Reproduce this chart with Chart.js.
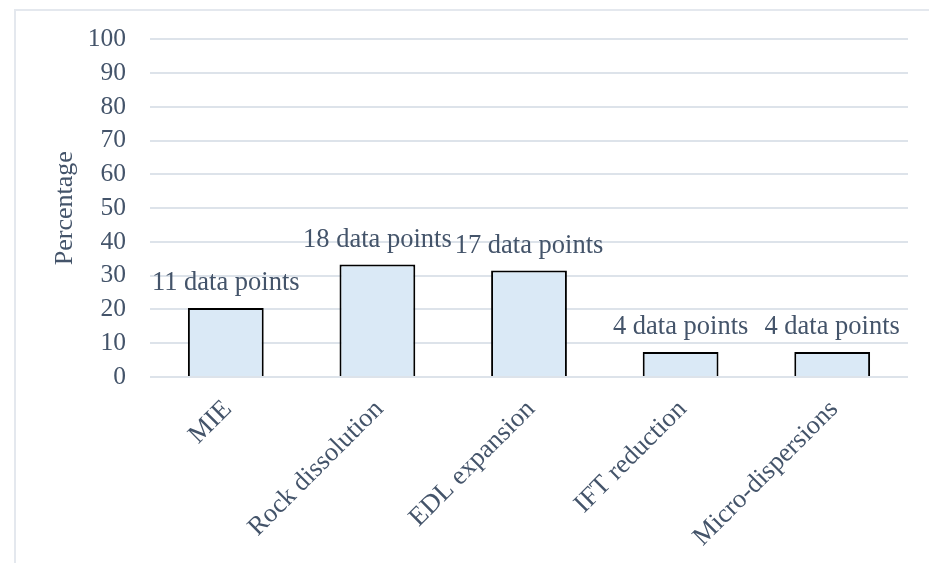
<!DOCTYPE html>
<html>
<head>
<meta charset="utf-8">
<script src="https://cdn.jsdelivr.net/npm/chart.js@4"></script>
<style>
    body { margin: 0; background: #fff; }
    .wrap { position: relative; width: 929px; height: 563px; overflow: hidden; }
    .frame { position: absolute; left: 14px; top: 9px; width: 940px; height: 600px;
             border-top: 2px solid #e4e8ee; border-left: 2px solid #e4e8ee; pointer-events: none; }
    canvas { position: absolute; left: 0; top: 0; }
</style>
</head>
<body>
<div class="wrap">
    <div class="frame"></div>
    <canvas id="mechChart" width="929" height="563"></canvas>
</div>
<script>
// chart data
const categories = ['MIE', 'Rock dissolution', 'EDL expansion', 'IFT reduction', 'Micro-dispersions'];
const percentages = [20.4, 33.3, 31.5, 7.4, 7.4];
const pointCounts = [11, 18, 17, 4, 4];
const yTicks = [0, 10, 20, 30, 40, 50, 60, 70, 80, 90, 100];

const TEXT = '#44546A';
const FONT = 'Liberation Serif';

// labels above the bars ("11 data points" ...)
const barLabels = {
    id: 'barLabels',
    afterDatasetsDraw(chart) {
        const ctx = chart.ctx;
        const meta = chart.getDatasetMeta(0);
        ctx.save();
        ctx.font = `26.5px "${FONT}"`;
        ctx.fillStyle = TEXT;
        ctx.textAlign = 'center';
        ctx.textBaseline = 'alphabetic';
        meta.data.forEach((bar, i) => {
            ctx.fillText(`${pointCounts[i]} data points`, bar.x, bar.y - 18);
        });
        ctx.restore();
    }
};

new Chart(document.getElementById('mechChart'), {
    type: 'bar',
    data: {
        labels: categories,
        datasets: [{
            data: percentages,
            backgroundColor: '#dae9f6',
            borderColor: '#000000',
            borderWidth: 2,
            categoryPercentage: 1,
            barPercentage: 0.5
        }]
    },
    options: {
        responsive: false,
        animation: false,
        layout: { padding: { top: 39, right: 21, left: 0, bottom: 0 } },
        plugins: { legend: { display: false }, tooltip: { enabled: false } },
        scales: {
            x: {
                grid: { display: false },
                border: { display: false },
                ticks: {
                    color: TEXT,
                    font: { family: FONT, size: 26.5 },
                    autoSkip: false,
                    minRotation: 45,
                    maxRotation: 45,
                    padding: 9,
                    labelOffset: 2
                },
                afterFit(scale) { scale.height = 186; }
            },
            y: {
                min: 0,
                max: 100,
                afterBuildTicks(scale) { scale.ticks = yTicks.map(v => ({ value: v })); },
                grid: { color: '#dde3ea', lineWidth: 2, drawTicks: false },
                border: { display: false },
                ticks: {
                    color: TEXT,
                    font: { family: FONT, size: 25.5 },
                    padding: 24
                },
                title: {
                    display: true,
                    text: 'Percentage',
                    color: TEXT,
                    font: { family: FONT, size: 26 },
                    padding: { top: 50, bottom: 0 }
                },
                afterFit(scale) { scale.width = 150; }
            }
        }
    },
    plugins: [barLabels]
});
</script>
</body>
</html>
